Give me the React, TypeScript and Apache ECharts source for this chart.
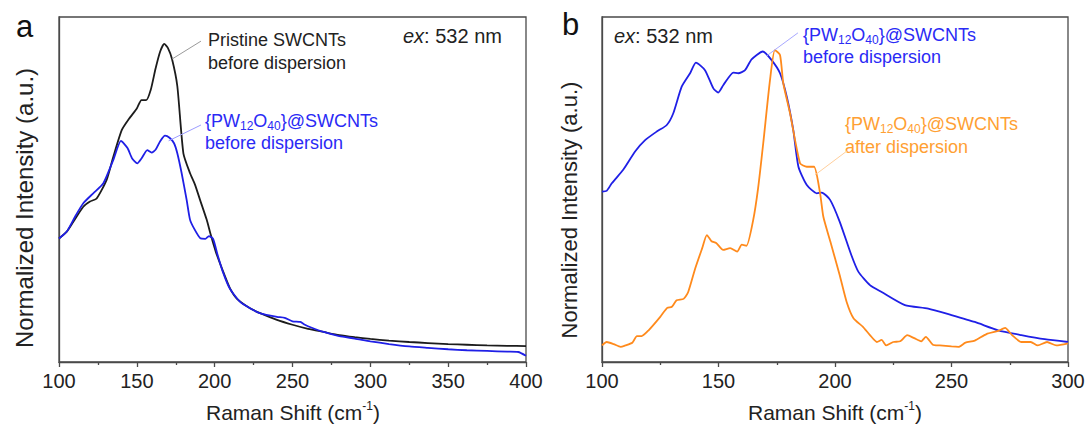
import React, { useEffect, useRef } from "react";
import * as echarts from "echarts";

// ---------- Panel a ----------
const pristineX = [100, 105, 109, 115.6, 119.9, 124.2, 130.6, 134.9, 140.3, 145, 150, 153, 156, 159, 162, 165, 167.6, 170, 172.6, 176, 179.9, 184.2, 187.3, 190.6, 194.9, 197.4, 200.7, 205.2, 209.7, 214.2, 223, 230, 240, 250, 260, 270, 280, 290, 300, 312, 325, 337, 350, 362, 375, 388, 400];
const pristineY = [0.358, 0.378, 0.405, 0.45, 0.465, 0.474, 0.528, 0.595, 0.672, 0.705, 0.735, 0.759, 0.759, 0.79, 0.85, 0.9, 0.922, 0.91, 0.878, 0.8, 0.605, 0.547, 0.515, 0.47, 0.412, 0.37, 0.32, 0.265, 0.215, 0.184, 0.155, 0.14, 0.122, 0.108, 0.096, 0.087, 0.078, 0.072, 0.067, 0.062, 0.058, 0.055, 0.052, 0.05, 0.048, 0.047, 0.046];

const beforeAX = [100, 105, 110.3, 115.6, 122, 128.5, 134.9, 139.8, 144, 147, 150.3, 153, 156.7, 159.5, 162, 165, 168.1, 171, 173.9, 176, 178.8, 182, 184.2, 187, 190.7, 194, 196.3, 199, 201.9, 205.2, 209.7, 216.4, 223, 230, 240, 245, 250, 255, 258, 262, 270, 280, 290, 300, 312, 325, 337, 350, 362, 375, 388, 395, 400];
const beforeAY = [0.358, 0.378, 0.421, 0.46, 0.489, 0.518, 0.586, 0.641, 0.62, 0.59, 0.576, 0.59, 0.614, 0.607, 0.615, 0.64, 0.656, 0.65, 0.634, 0.605, 0.547, 0.47, 0.412, 0.385, 0.359, 0.357, 0.365, 0.357, 0.31, 0.262, 0.213, 0.174, 0.155, 0.14, 0.131, 0.128, 0.118, 0.116, 0.108, 0.1, 0.087, 0.075, 0.068, 0.06, 0.052, 0.045, 0.041, 0.037, 0.034, 0.032, 0.03, 0.029, 0.018];

// ---------- Panel b ----------
const beforeBX = [100, 102, 104.2, 109.1, 114.2, 118.5, 123.5, 127.8, 130.6, 134.2, 137.8, 140.3, 144.2, 147.8, 149.9, 152.1, 156.4, 158.5, 161.4, 164.2, 169, 172.8, 176.4, 179.3, 182.1, 184.3, 187.9, 192.2, 194.3, 197.9, 202, 207, 210, 215, 220, 230, 240, 250, 260, 270, 280, 290, 300];
const beforeBY = [0.494, 0.496, 0.518, 0.557, 0.61, 0.643, 0.668, 0.687, 0.721, 0.798, 0.837, 0.868, 0.846, 0.793, 0.781, 0.803, 0.839, 0.837, 0.846, 0.877, 0.9, 0.875, 0.837, 0.769, 0.672, 0.566, 0.513, 0.489, 0.491, 0.47, 0.407, 0.31, 0.262, 0.223, 0.203, 0.165, 0.155, 0.136, 0.116, 0.092, 0.078, 0.066, 0.058];

const afterBX = [100, 102, 105, 108, 110, 113, 115, 117, 120, 125, 128, 130, 132, 135, 137, 140, 143, 145, 147, 149, 152, 155, 158, 160, 162, 164.9, 167, 169.2, 172.1, 174.2, 176.4, 177.8, 180.7, 185, 187.9, 191, 193.6, 195, 198, 202, 205, 208, 212, 215, 218, 220, 222, 225, 228, 231, 234, 237, 239, 242, 245, 250, 253, 256, 260, 265, 270, 273, 276, 280, 284, 287, 291, 295, 300];
const afterBY = [0.048, 0.058, 0.052, 0.044, 0.048, 0.056, 0.075, 0.075, 0.092, 0.131, 0.157, 0.16, 0.179, 0.183, 0.203, 0.271, 0.33, 0.368, 0.35, 0.345, 0.325, 0.33, 0.32, 0.34, 0.337, 0.412, 0.504, 0.634, 0.817, 0.904, 0.89, 0.808, 0.721, 0.576, 0.566, 0.566, 0.489, 0.421, 0.349, 0.252, 0.174, 0.126, 0.102, 0.078, 0.058, 0.064, 0.048, 0.058, 0.06, 0.078, 0.069, 0.06, 0.073, 0.05, 0.048, 0.045, 0.044, 0.056, 0.062, 0.081, 0.09, 0.099, 0.078, 0.058, 0.058, 0.048, 0.058, 0.048, 0.054];

const xTicksA = { min: 100, max: 400, interval: 50 };
const xTicksB = { min: 100, max: 300, interval: 50 };

const FONT = "'Liberation Sans', Arial, sans-serif";
const BLACK = "#1c1c1c";
const BLUE = "#1f1fe6";
const ORANGE = "#ff8a1c";
const BLUE_TXT = "#2a2af5";
const ORANGE_TXT = "#ffa033";

const zip = (xs: number[], ys: number[]) => xs.map((x, i) => [x, ys[i]]);

export default function App() {
  const ref = useRef<HTMLDivElement>(null);
  useEffect(() => {
    if (!ref.current) return;
    const chart = echarts.init(ref.current, undefined, { renderer: "svg" });
    const axisLineStyle = { color: "#4a4a4a", width: 1.3 };
    const mkX = (gi: number, t: { min: number; max: number; interval: number }) => ({
      type: "value",
      gridIndex: gi,
      min: t.min,
      max: t.max,
      interval: t.interval,
      axisLine: { show: true, onZero: false, lineStyle: axisLineStyle },
      axisTick: { show: true, inside: false, length: 5, lineStyle: axisLineStyle },
      minorTick: { show: true, splitNumber: 2, length: 3, lineStyle: axisLineStyle },
      axisLabel: { fontSize: 20, color: "#222", margin: 9, fontFamily: FONT },
      splitLine: { show: false },
    });
    const mkY = (gi: number) => ({
      type: "value",
      gridIndex: gi,
      min: 0,
      max: 1,
      axisLine: { show: true, onZero: false, lineStyle: axisLineStyle },
      axisTick: { show: false },
      axisLabel: { show: false },
      splitLine: { show: false },
    });
    const line = (name: string, xi: number, data: number[][], color: string) => ({
      name,
      type: "line",
      xAxisIndex: xi,
      yAxisIndex: xi,
      data,
      showSymbol: false,
      symbol: "none",
      smooth: 0.2,
      lineStyle: { color, width: 1.8 },
      z: 3,
    });
    chart.setOption({
      animation: false,
      grid: [
        { left: 59, top: 17, width: 467, height: 345, show: true, borderColor: "#4a4a4a", borderWidth: 1.3, backgroundColor: "transparent" },
        { left: 602, top: 17, width: 466, height: 345, show: true, borderColor: "#4a4a4a", borderWidth: 1.3, backgroundColor: "transparent" },
      ],
      xAxis: [mkX(0, xTicksA), mkX(1, xTicksB)],
      yAxis: [mkY(0), mkY(1)],
      series: [
        line("Pristine SWCNTs before dispersion", 0, zip(pristineX, pristineY), BLACK),
        line("{PW12O40}@SWCNTs before dispersion (a)", 0, zip(beforeAX, beforeAY), BLUE),
        line("{PW12O40}@SWCNTs before dispersion (b)", 1, zip(beforeBX, beforeBY), BLUE),
        line("{PW12O40}@SWCNTs after dispersion", 1, zip(afterBX, afterBY), ORANGE),
      ],
    });

    const px = (gi: number, p: number[]) => chart.convertToPixel({ gridIndex: gi }, p) as number[];
    const leader = (gi: number, a: number[], b: number[], color: string) => {
      const p1 = px(gi, a);
      const p2 = px(gi, b);
      return { type: "line", shape: { x1: p1[0], y1: p1[1], x2: p2[0], y2: p2[1] }, style: { stroke: color, lineWidth: 1 }, z: 10 };
    };
    const txt = (x: number, y: number, text: string, fill: string, size: number, extra: any = {}) => ({
      type: "text",
      x,
      y,
      z: 10,
      style: {
        text,
        fill,
        fontSize: size,
        fontFamily: FONT,
        textAlign: "left",
        textVerticalAlign: "middle",
        ...extra,
      },
    });
    const formula = (fill: string) => ({
      lineHeight: 22,
      rich: {
        n: { fontSize: 18, fontFamily: FONT, fill, lineHeight: 22 },
        s: { fontSize: 12, fontFamily: FONT, fill, lineHeight: 12, verticalAlign: "bottom" },
      },
    });
    const F = "{n|{PW}{s|12}{n|O}{s|40}}@SWCNTs";
    const exRich = {
      rich: {
        i: { fontSize: 20, fontFamily: FONT, fontStyle: "italic", fill: "#222" },
        n: { fontSize: 20, fontFamily: FONT, fill: "#222" },
      },
    };
    const xTitleRich = {
      textAlign: "center",
      lineHeight: 24,
      rich: {
        n: { fontSize: 21, fontFamily: FONT, fill: "#222", lineHeight: 24 },
        sup: { fontSize: 12, fontFamily: FONT, fill: "#222", lineHeight: 12, verticalAlign: "top" },
      },
    };

    chart.setOption({
      graphic: [
        txt(16, 26, "a", "#111", 31),
        txt(562, 24, "b", "#111", 31),
        {
          type: "text", x: 24, y: 208, rotation: Math.PI / 2, z: 10,
          style: { text: "Normalized Intensity (a.u.)", fill: "#222", fontSize: 24, fontFamily: FONT, textAlign: "center", textVerticalAlign: "middle" },
        },
        {
          type: "text", x: 569, y: 210, rotation: Math.PI / 2, z: 10,
          style: { text: "Normalized Intensity (a.u.)", fill: "#222", fontSize: 22, fontFamily: FONT, textAlign: "center", textVerticalAlign: "middle" },
        },
        txt(293, 412, "{n|Raman Shift (cm}{sup|-1}{n|)}", "#222", 21, xTitleRich),
        txt(835, 412, "{n|Raman Shift (cm}{sup|-1}{n|)}", "#222", 21, xTitleRich),
        txt(403, 36, "{i|ex}{n|: 532 nm}", "#222", 20, exRich),
        txt(614, 36, "{i|ex}{n|: 532 nm}", "#222", 20, exRich),
        // panel a annotations
        txt(208, 40, "Pristine SWCNTs", "#222", 18),
        txt(208, 63, "before dispersion", "#222", 18),
        txt(205, 121, F, BLUE_TXT, 18, formula(BLUE_TXT)),
        txt(205, 143, "before dispersion", BLUE_TXT, 18),
        leader(0, [172.6, 0.878], [191.2, 0.93], "#9a9a9a"),
        leader(0, [170.4, 0.641], [191.2, 0.687], "#9c9cff"),
        // panel b annotations
        txt(803, 35, F, BLUE_TXT, 18, formula(BLUE_TXT)),
        txt(803, 57, "before dispersion", BLUE_TXT, 18),
        txt(845, 124, F, ORANGE_TXT, 18, formula(ORANGE_TXT)),
        txt(845, 147, "after dispersion", ORANGE_TXT, 18),
        leader(1, [170.8, 0.888], [184.1, 0.954], "#a8a8ff"),
        leader(1, [191.4, 0.542], [205.2, 0.612], "#ffcf9c"),
      ],
    });
    return () => chart.dispose();
  }, []);
  return (
    <div
      ref={ref}
      style={{ position: "absolute", left: 0, top: 0, width: 1089, height: 425, background: "#fff" }}
    />
  );
}
